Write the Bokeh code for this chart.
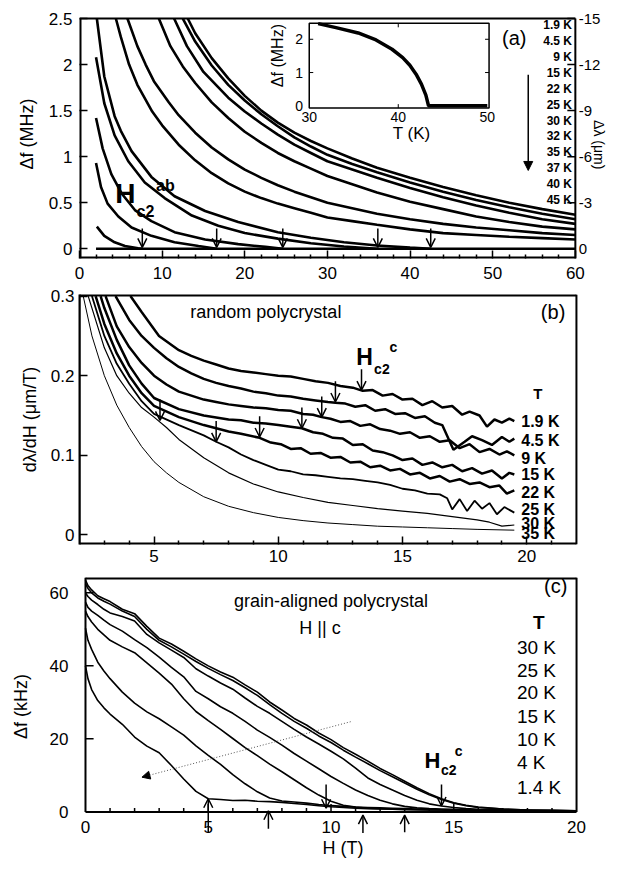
import math
from bokeh.plotting import figure
from bokeh.layouts import column
from bokeh.models import (Range1d, FixedTicker, CustomJSTickFormatter,
                          Label, Arrow, OpenHead, NormalHead, ColumnDataSource)
from bokeh.embed import file_html
from bokeh.resources import INLINE

FONT = "Liberation Sans"

# ---------------- panel (a) data : Delta f (MHz) vs H (T) ----------------
a_temps = ["1.9 K", "4.5 K", "9 K", "15 K", "22 K", "25 K", "30 K", "32 K", "35 K", "37 K", "40 K", "45 K"]
a_H_1p9 = [13.1, 14, 16, 18, 20, 22, 24, 26, 28, 30, 33, 36, 40, 44, 48, 52, 56, 60]
a_f_1p9 = [2.5, 2.34, 2.07, 1.85, 1.66, 1.5, 1.37, 1.26, 1.17, 1.09, 0.98, 0.88, 0.77, 0.67, 0.58, 0.5, 0.43, 0.37]
a_H_4p5 = [12.5, 14, 16, 18, 20, 22, 24, 26, 28, 30, 33, 36, 40, 44, 48, 52, 56, 60]
a_f_4p5 = [2.5, 2.25, 1.99, 1.78, 1.61, 1.46, 1.33, 1.21, 1.11, 1.02, 0.92, 0.83, 0.72, 0.62, 0.53, 0.45, 0.38, 0.32]
a_H_9 = [11.45, 13, 15, 18, 20, 22, 24, 26, 28, 30, 33, 36, 40, 44, 48, 52, 56, 60]
a_f_9 = [2.5, 2.2, 1.92, 1.64, 1.49, 1.36, 1.24, 1.13, 1.04, 0.95, 0.86, 0.77, 0.66, 0.56, 0.47, 0.39, 0.32, 0.27]
a_H_15 = [9.6, 11, 12.5, 14, 16, 18, 20, 22, 24, 26, 28, 30, 33, 36, 40, 44, 48, 52, 56, 60]
a_f_15 = [2.5, 2.2, 1.98, 1.8, 1.59, 1.42, 1.27, 1.15, 1.04, 0.95, 0.87, 0.79, 0.7, 0.61, 0.51, 0.43, 0.35, 0.29, 0.24, 0.21]
a_H_22 = [5.8, 7, 8, 9, 10.8, 12, 14, 16, 18, 20, 22, 24, 26, 28, 30, 33, 36, 40, 44, 48, 52, 56, 60]
a_f_22 = [2.5, 2.2, 2.0, 1.82, 1.59, 1.45, 1.26, 1.1, 0.97, 0.86, 0.77, 0.69, 0.62, 0.56, 0.5, 0.44, 0.38, 0.32, 0.27, 0.23, 0.2, 0.17, 0.15]
a_H_25 = [4.4, 5, 6, 7, 8.8, 10, 12, 14, 16, 18, 20, 22, 24, 26, 28, 30, 33, 36, 40, 44, 48, 52, 56, 60]
a_f_25 = [2.5, 2.3, 2.0, 1.78, 1.49, 1.34, 1.13, 0.96, 0.82, 0.71, 0.62, 0.55, 0.49, 0.44, 0.39, 0.34, 0.3, 0.26, 0.21, 0.17, 0.15, 0.13, 0.115, 0.1]
a_H_30 = [2.1, 3, 4.25, 5, 6.3, 8.7, 11.5, 15.2, 19.2, 24, 28, 32, 36, 40, 42.5]
a_f_30 = [2.5, 1.87, 1.44, 1.28, 1.06, 0.78, 0.57, 0.41, 0.29, 0.18, 0.12, 0.07, 0.035, 0.012, 0.0]
a_H_32 = [2.0, 3, 4.25, 5.9, 7.9, 10.3, 13.6, 16.8, 20, 24, 28, 32, 36]
a_f_32 = [2.08, 1.58, 1.23, 0.95, 0.72, 0.55, 0.36, 0.25, 0.17, 0.11, 0.06, 0.025, 0.0]
a_H_35 = [2.0, 2.8, 3.85, 5.1, 6.7, 8.7, 11.5, 15.2, 19.2, 22.5, 24.6]
a_f_35 = [1.42, 1.09, 0.81, 0.6, 0.42, 0.3, 0.18, 0.1, 0.05, 0.02, 0.0]
a_H_37 = [2.0, 2.6, 3.4, 4.7, 6.3, 8.7, 11.5, 14.4, 16.6]
a_f_37 = [0.93, 0.67, 0.49, 0.35, 0.23, 0.14, 0.07, 0.03, 0.0]
a_H_40 = [2.1, 3, 4.25, 5.5, 7.1, 7.6]
a_f_40 = [0.24, 0.14, 0.07, 0.03, 0.005, 0.0]
a_H_45 = [2.0, 60.0]
a_f_45 = [0.0, 0.0]
a_hc2 = [7.6, 16.6, 24.6, 36.1, 42.5]          # H_c2 arrows (T)
a_yticks = [0, 0.5, 1, 1.5, 2, 2.5]
a_dl_ticks = [0, -3, -6, -9, -12, -15]         # right axis, delta lambda = -6 * delta f

# inset: Delta f (MHz) vs T (K) at zero field
in_T = [31.0, 33.0, 35.5, 37.5, 39.3, 40.5, 41.3, 42.0, 42.6, 43.1, 43.4, 50.0]
in_f = [2.47, 2.35, 2.19, 1.98, 1.70, 1.45, 1.22, 0.95, 0.65, 0.32, 0.0, 0.0]

# ---------------- panel (b) data : d lambda / dH (um/T) ----------------
b_temps = ["1.9 K", "4.5 K", "9 K", "15 K", "22 K", "25 K", "30 K", "35 K"]
b_H_1p9 = [4.05, 4.5, 5.2, 6, 6.5, 7, 7.5, 8, 8.5, 9, 9.5, 10, 10.5, 11, 11.5, 12, 12.5, 13, 13.4, 13.8,
           14.2, 14.6, 15, 15.4, 15.8, 16.2, 16.6, 17, 17.4, 17.7, 18.1, 18.4, 18.7, 19, 19.3, 19.5]
b_v_1p9 = [.300, .280, .250, .232, .225, .219, .214, .209, .206, .204, .202, .200, .199, .196, .193, .191, .187, .185, .181, .182,
           .175, .177, .170, .171, .163, .168, .160, .162, .151, .155, .150, .136, .145, .141, .146, .143]
b_H_4p5 = [3.45, 4, 4.5, 5, 5.5, 6, 6.5, 7, 7.5, 8, 8.5, 9, 9.5, 10, 10.5, 11, 11.5, 12, 12.3, 12.7, 13.1,
           13.5, 13.9, 14.3, 14.7, 15.1, 15.5, 15.9, 16.3, 16.6, 17.05, 17.5, 17.8, 18.2, 18.6, 19, 19.3, 19.5]
b_v_4p5 = [.300, .270, .250, .235, .222, .211, .203, .196, .191, .187, .184, .180, .178, .175, .174, .171, .169, .167, .166, .165, .161,
           .163, .156, .158, .152, .153, .147, .149, .141, .138, .107, .117, .124, .119, .113, .123, .117, .121]
b_H_9 = [3.05, 3.5, 4, 4.5, 5, 5.5, 6, 7, 7.5, 8, 8.5, 9, 9.5, 10, 10.5, 11, 11.4, 11.75, 12.1, 12.5, 12.9,
         13.3, 13.7, 14.1, 14.5, 14.9, 15.3, 15.7, 16.1, 16.5, 16.9, 17.3, 17.7, 18.1, 18.5, 18.9, 19.2, 19.5]
b_v_9 = [.300, .262, .236, .216, .200, .189, .180, .170, .167, .164, .162, .160, .159, .157, .156, .152, .151, .148, .146, .142, .143,
         .137, .139, .133, .131, .127, .129, .122, .124, .117, .119, .109, .114, .104, .108, .101, .105, .100]
b_H_15 = [2.85, 3, 3.5, 4, 4.5, 5, 6, 7, 8, 8.5, 9, 9.5, 10, 10.5, 10.95, 11.4, 11.8, 12.2, 12.6, 13, 13.4,
          13.8, 14.2, 14.6, 15, 15.4, 15.8, 16.2, 16.6, 17, 17.4, 17.8, 18.2, 18.6, 19, 19.3, 19.5]
b_v_15 = [.300, .285, .245, .213, .190, .172, .158, .150, .145, .144, .141, .140, .138, .136, .134, .129, .127, .122, .121, .113, .114,
          .106, .104, .100, .094, .096, .088, .091, .085, .088, .080, .084, .077, .081, .071, .078, .076]
b_H_22 = [2.65, 3, 3.5, 4, 4.5, 5, 6, 7, 8, 8.5, 9.25, 9.7, 10.1, 10.5, 10.9, 11.3, 11.7, 12.1, 12.5, 12.9, 13.3,
          13.7, 14.1, 14.5, 14.9, 15.3, 15.7, 16.1, 16.5, 16.9, 17.3, 17.7, 18.1, 18.5, 18.9, 19.2, 19.5]
b_v_22 = [.300, .265, .228, .200, .178, .162, .148, .138, .130, .127, .122, .116, .114, .108, .109, .102, .103, .097, .098, .091, .092,
          .085, .087, .081, .083, .076, .078, .071, .074, .067, .070, .064, .066, .060, .062, .052, .056]
b_H_25 = [2.5, 3, 3.5, 4, 4.5, 5, 6, 7, 7.5, 8, 8.5, 9, 9.5, 10, 10.5, 11, 11.5, 12, 12.5, 13, 13.5,
          14, 14.5, 15, 15.5, 16, 16.5, 16.8, 17.0, 17.3, 17.6, 17.9, 18.2, 18.5, 18.8, 19.1, 19.5]
b_v_25 = [.300, .250, .215, .190, .168, .152, .138, .125, .117, .110, .101, .094, .088, .082, .080, .076, .075, .073, .071, .070, .068,
          .066, .063, .058, .056, .052, .051, .046, .032, .045, .030, .043, .033, .040, .026, .035, .028]
b_H_30 = [2.35, 3, 3.5, 4, 4.5, 5, 5.5, 6, 7, 8, 9, 10, 11, 12, 13, 14, 15, 16, 17, 18, 18.5, 19, 19.5]
b_v_30 = [.300, .235, .200, .178, .160, .148, .135, .120, .097, .078, .064, .054, .047, .041, .037, .033, .030, .027, .023, .019, .016, .011, .0125]
b_H_35 = [2.15, 2.5, 3, 3.5, 4, 4.5, 5, 5.5, 6, 7, 8, 9, 10, 11, 12, 13, 14, 15, 16, 17, 18, 19.5]
b_v_35 = [.300, .250, .200, .163, .135, .111, .092, .078, .066, .048, .036, .028, .022, .018, .015, .013, .011, .010, .009, .008, .007, .006]
b_hc2_H = [5.24, 7.5, 9.25, 10.95, 11.75, 12.3, 13.35]
b_hc2_v = [0.144, 0.117, 0.123, 0.134, 0.148, 0.167, 0.182]

# ---------------- panel (c) data : Delta f (kHz) vs H (T) ----------------
c_temps = ["30 K", "25 K", "20 K", "15 K", "10 K", "4 K", "1.4 K"]
c_H = [0, 0.1, 0.25, 0.5, 0.75, 1, 1.5, 2, 2.5, 3, 3.5, 4, 4.5, 5, 5.5, 6, 6.5, 7, 7.5, 8,
       8.5, 9, 9.5, 10, 10.5, 11, 11.5, 12, 12.5, 13, 13.5, 14, 14.5, 15, 15.5, 16, 17, 18, 19, 20]
c_1p4 = [63.5, 62.0, 60.8, 59.2, 58.4, 57.6, 55.5, 54.3, 50.8, 47.6, 46.0, 44.0, 41.9, 40.0, 38.3, 36.9, 34.8, 32.8, 30.1, 27.9,
         25.6, 23.8, 21.6, 19.8, 17.6, 15.8, 13.9, 11.9, 10.2, 8.4, 6.6, 5.0, 3.6, 2.5, 1.8, 1.3, 0.8, 0.5, 0.4, 0.3]
c_4 = [62.5, 61.2, 60.0, 58.6, 57.7, 56.9, 55.0, 53.5, 50.0, 47.0, 45.2, 43.2, 41.2, 39.3, 37.6, 36.0, 34.0, 31.9, 29.4, 27.0,
       24.8, 22.9, 20.8, 19.0, 16.9, 15.0, 13.2, 11.3, 9.6, 7.9, 6.2, 4.7, 3.4, 2.4, 1.7, 1.2, 0.8, 0.5, 0.4, 0.3]
c_10 = [60.0, 59.0, 58.0, 56.8, 55.5, 54.5, 53.5, 52.3, 48.6, 46.3, 44.3, 42.3, 39.2, 37.2, 35.3, 33.6, 31.2, 28.9, 27.0, 24.8,
        22.6, 20.5, 18.6, 16.6, 14.5, 12.0, 9.3, 7.5, 6.0, 4.5, 3.2, 2.2, 1.6, 1.2, 0.9, 0.7, 0.5, 0.4, 0.3, 0.3]
c_15 = [57.5, 56.0, 55.0, 53.8, 52.5, 51.3, 49.5, 47.2, 45.0, 42.4, 39.6, 37.0, 33.0, 31.0, 28.8, 27.0, 24.8, 22.4, 20.4, 18.3,
        16.0, 13.9, 11.8, 9.7, 7.8, 6.0, 4.5, 3.2, 2.2, 1.5, 1.1, 0.9, 0.8, 0.7, 0.6, 0.5, 0.4, 0.4, 0.3, 0.3]
c_20 = [55.0, 53.5, 52.0, 50.0, 48.5, 47.0, 45.2, 43.6, 40.8, 38.0, 35.0, 31.0, 27.5, 25.0, 22.6, 20.1, 17.6, 15.4, 13.1, 11.0,
        8.8, 6.6, 4.6, 2.9, 1.8, 1.3, 1.0, 0.9, 0.8, 0.7, 0.6, 0.5, 0.5, 0.4, 0.4, 0.4, 0.3, 0.3, 0.3, 0.3]
c_25 = [50.3, 47.0, 44.5, 41.0, 38.6, 36.5, 32.8, 29.8, 27.4, 25.5, 23.3, 21.0, 18.1, 15.5, 13.0, 10.2, 7.7, 5.5, 3.8, 3.0,
        2.7, 2.4, 2.0, 1.7, 1.5, 1.3, 1.2, 1.1, 1.0, 0.9, 0.8, 0.7, 0.6, 0.5, 0.5, 0.4, 0.4, 0.3, 0.3, 0.3]
c_30 = [40.0, 36.5, 33.5, 30.5, 28.5, 26.8, 24.0, 20.5, 18.0, 16.2, 12.7, 9.0, 5.6, 3.6, 3.4, 3.1, 3.2, 2.9, 2.8, 2.6,
        2.3, 2.0, 1.7, 1.4, 1.2, 1.0, 0.9, 0.8, 0.7, 0.6, 0.6, 0.5, 0.5, 0.4, 0.4, 0.4, 0.3, 0.3, 0.3, 0.3]
c_up_H = [5.0, 7.45, 11.3, 13.0]
c_down_H = [9.8, 14.5]
c_xticks = [0, 5, 10, 15, 20]
c_yticks = [0, 20, 40, 60]


# ---------------- helpers ----------------
def style(p, tick_size="17px"):
    p.xgrid.visible = False
    p.ygrid.visible = False
    p.outline_line_color = None
    p.background_fill_color = "white"
    p.border_fill_color = "white"
    for ax in p.axis:
        ax.axis_line_width = 2
        ax.major_tick_in = 8
        ax.major_tick_out = 0
        ax.minor_tick_in = 4
        ax.minor_tick_out = 0
        ax.major_tick_line_width = 1.5
        ax.minor_tick_line_width = 1.5
        ax.major_label_text_font = FONT
        ax.major_label_text_font_size = tick_size
        ax.major_label_text_color = "black"
        ax.major_label_standoff = 5
        ax.axis_label_text_font = FONT
        ax.axis_label_text_font_size = "18px"
        ax.axis_label_text_font_style = "normal"
        ax.axis_label_text_color = "black"
        ax.axis_label_standoff = 4
        ax.formatter = CustomJSTickFormatter(code="return String(tick);")


def lab(p, x, y, text, size, bold=False, align="center", baseline="middle",
        angle=0.0, xr="default", yr="default"):
    p.add_layout(Label(x=x, y=y, text=text, text_font=FONT,
                       text_font_size=f"{size}px",
                       text_font_style="bold" if bold else "normal",
                       text_align=align, text_baseline=baseline, angle=angle,
                       x_range_name=xr, y_range_name=yr, text_color="black"))


def arrows(p, xs, y0s, y1s, head, lw=1.5, color="black", dash="solid"):
    src = ColumnDataSource(dict(x0=list(xs), y0=list(y0s), x1=list(xs), y1=list(y1s)))
    p.add_layout(Arrow(end=head, source=src, x_start="x0", y_start="y0",
                       x_end="x1", y_end="y1", line_width=lw,
                       line_color=color, line_dash=dash))


def ohead():
    return OpenHead(size=9, line_width=1.5, line_color="black")


def box(p, x0, x1, y0, y1, widths):
    # left, right, bottom, top edges of a panel box
    p.segment(x0=[x0, x1, x0, x0], y0=[y0, y0, y0, y1], x1=[x0, x1, x1, x1], y1=[y1, y1, y0, y1],
              line_color="black", line_width=widths)


W = 606
BL = 79           # common left border (frames are aligned in the column)

# ================= panel (a) =================
a_top = 2.598     # frame top: a little above the box so the right tick labels fit
a_bot = -0.106
a_xend = 63.77    # frame extends right of the box (H = 60) for the right-hand scale
pa = figure(width=W, height=286, x_range=Range1d(0, a_xend), y_range=Range1d(a_bot, a_top),
            output_backend="svg", toolbar_location=None,
            min_border_left=BL, min_border_right=0, min_border_top=9, min_border_bottom=28)
in_box_H = (27.8, 49.56)
in_box_f = (1.527, 2.448)
in_x = (30.0, 50.2)
in_y = (-0.07, 2.48)
sx = (in_x[1] - in_x[0]) / (in_box_H[1] - in_box_H[0])
sy = (in_y[1] - in_y[0]) / (in_box_f[1] - in_box_f[0])
pa.extra_x_ranges = {"ix": Range1d(in_x[0] + (0 - in_box_H[0]) * sx, in_x[0] + (a_xend - in_box_H[0]) * sx)}
pa.extra_y_ranges = {"iy": Range1d(in_y[0] + (a_bot - in_box_f[0]) * sy, in_y[0] + (a_top - in_box_f[0]) * sy)}

pa.xaxis.ticker = FixedTicker(ticks=[0, 10, 20, 30, 40, 50, 60],
                              minor_ticks=[x for x in range(2, 60, 2) if x % 10])
pa.yaxis.ticker = FixedTicker(ticks=a_yticks)
pa.yaxis.axis_label = "\u0394f (MHz)"
style(pa)
pa.xaxis.axis_line_color = None
pa.yaxis.axis_line_color = None
pa.xaxis.major_label_standoff = 8
pa.yaxis.major_label_standoff = 7
pa.yaxis.axis_label_standoff = 9
box(pa, 0, 60, a_bot, 2.5, [4, 2, 4, 2])
# right-hand scale (delta lambda)
pa.segment(x0=[60] * 6, y0=[-t / 6 for t in a_dl_ticks], x1=[59.03] * 6, y1=[-t / 6 for t in a_dl_ticks],
           line_color="black", line_width=1.5)
for t in a_dl_ticks:
    lab(pa, 60.4, -t / 6, str(t), 15, align="left")
lab(pa, 62.9, 1.13, "\u0394\u03bb (\u03bcm)", 14, angle=-math.pi / 2)

a_curves = [(a_H_1p9, a_f_1p9), (a_H_4p5, a_f_4p5), (a_H_9, a_f_9), (a_H_15, a_f_15),
            (a_H_22, a_f_22), (a_H_25, a_f_25), (a_H_30, a_f_30), (a_H_32, a_f_32),
            (a_H_35, a_f_35), (a_H_37, a_f_37), (a_H_40, a_f_40), (a_H_45, a_f_45)]
for hx, fy in a_curves:
    pa.line(hx, fy, line_color="black", line_width=2.6)

arrows(pa, a_hc2, [0.22] * len(a_hc2), [0.015] * len(a_hc2), ohead())

for i, t in enumerate(a_temps):
    lab(pa, 59.6, 2.426 - i * 0.1723, t, 12, bold=True, align="right")
lab(pa, 52.6, 2.286, "(a)", 20)
arrows(pa, [54.3], [1.89], [0.85],
       NormalHead(size=9, fill_color="black", line_color="black", line_width=1))
lab(pa, 5.56, 0.596, "H", 28, bold=True)
lab(pa, 7.98, 0.405, "c2", 16, bold=True)
lab(pa, 10.4, 0.69, "ab", 16, bold=True)

# inset
pa.quad(left=in_x[0], right=in_x[1], bottom=in_y[0], top=in_y[1], fill_color="white",
        line_color="black", line_width=1.5, x_range_name="ix", y_range_name="iy")
pa.line(in_T, in_f, line_color="black", line_width=3.5, x_range_name="ix", y_range_name="iy")
dT, dF = 0.45, 0.12
pa.segment(x0=[40, 40, in_x[0], in_x[0], in_x[1], in_x[1]],
           y0=[in_y[0], in_y[1], 1, 2, 1, 2],
           x1=[40, 40, in_x[0] + dT, in_x[0] + dT, in_x[1] - dT, in_x[1] - dT],
           y1=[in_y[0] + dF, in_y[1] - dF, 1, 2, 1, 2],
           line_color="black", line_width=1, x_range_name="ix", y_range_name="iy")
for t in [30, 40, 50]:
    lab(pa, t, -0.334, str(t), 14, xr="ix", yr="iy")
for v in [0, 1, 2]:
    lab(pa, 29.3, v, str(v), 14, align="right", xr="ix", yr="iy")
lab(pa, 41.5, -0.83, "T (K)", 17, xr="ix", yr="iy")
lab(pa, 26.4, 1.51, "\u0394f (MHz)", 16, angle=math.pi / 2, xr="ix", yr="iy")

# ================= panel (b) =================
b_bot, b_top = -0.012, 0.302
pb = figure(width=W, height=283, x_range=Range1d(2, 23.21), y_range=Range1d(b_bot, b_top),
            output_backend="svg", toolbar_location=None,
            min_border_left=BL, min_border_right=0, min_border_top=8, min_border_bottom=25)
pb.xaxis.ticker = FixedTicker(ticks=[5, 10, 15, 20],
                              minor_ticks=[x for x in range(3, 22) if x % 5])
pb.yaxis.ticker = FixedTicker(ticks=[0, 0.1, 0.2, 0.3])
pb.yaxis.axis_label = "d\u03bb/dH (\u03bcm/T)"
style(pb)
pb.xaxis.axis_line_color = None
pb.yaxis.axis_label_standoff = 8
box(pb, 2, 22, b_bot, b_top, [2, 2, 4, 4])

b_curves = [(b_H_1p9, b_v_1p9, 2.5), (b_H_4p5, b_v_4p5, 2.5), (b_H_9, b_v_9, 2.5),
            (b_H_15, b_v_15, 2.5), (b_H_22, b_v_22, 2.5), (b_H_25, b_v_25, 1.8),
            (b_H_30, b_v_30, 1.2), (b_H_35, b_v_35, 1.0)]
for hx, vy, lw in b_curves:
    pb.line(hx, vy, line_color="black", line_width=lw)
arrows(pb, b_hc2_H, [v + 0.026 for v in b_hc2_v], b_hc2_v, ohead())

lab(pb, 9.5, 0.2796, "random polycrystal", 18)
lab(pb, 21.06, 0.2796, "(b)", 20)
lab(pb, 13.47, 0.2233, "H", 23, bold=True)
lab(pb, 14.17, 0.2086, "c2", 14, bold=True)
lab(pb, 14.63, 0.2356, "c", 14, bold=True)
lab(pb, 20.45, 0.178, "T", 15, bold=True)
b_lab_y = [0.1428, 0.1183, 0.0959, 0.0754, 0.053, 0.0314, 0.0142, 0.002]
for t, yy in zip(b_temps, b_lab_y):
    lab(pb, 19.78, yy, t, 16, bold=True, align="left")

# ================= panel (c) =================
c_top = 64.2
pc = figure(width=W, height=291, x_range=Range1d(-0.244, 21.22), y_range=Range1d(-6.47, c_top),
            output_backend="svg", toolbar_location=None,
            min_border_left=BL, min_border_right=0, min_border_top=8, min_border_bottom=22)
pc.xaxis.ticker = FixedTicker(ticks=[])
pc.yaxis.ticker = FixedTicker(ticks=c_yticks)
pc.yaxis.axis_label = "\u0394f (kHz)"
pc.xaxis.axis_label = "H (T)"
style(pc)
pc.xaxis.axis_line_color = None
pc.yaxis.axis_line_color = None
pc.yaxis.major_tick_line_color = None
pc.xaxis.axis_label_standoff = 2
pc.yaxis.major_label_standoff = 11
pc.yaxis.axis_label_standoff = 16
box(pc, 0, 20, 0, c_top, [2, 2, 2, 4])
c_minor = [x for x in range(1, 20) if x % 5]
pc.segment(x0=c_xticks[1:-1], y0=[0] * 3, x1=c_xticks[1:-1], y1=[2.16] * 3,
           line_color="black", line_width=1.5)
pc.segment(x0=c_minor, y0=[0] * len(c_minor), x1=c_minor, y1=[1.08] * len(c_minor),
           line_color="black", line_width=1.5)
pc.segment(x0=[0] * 3, y0=c_yticks[1:], x1=[0.33] * 3, y1=c_yticks[1:],
           line_color="black", line_width=1.5)
for t in c_xticks:
    lab(pc, t, -4.05, str(t), 17)

for vals in [c_1p4, c_4, c_10, c_15, c_20, c_25, c_30]:
    pc.line(c_H, vals, line_color="black", line_width=1.6)

arrows(pc, c_up_H, [-5.5, -4.6, -5.8, -5.6], [3.6, 0.3, -0.9, -0.9], ohead())
arrows(pc, c_down_H, [7.5, 7.5], [1.0, 1.6], ohead())
pc.add_layout(Arrow(end=NormalHead(size=8, fill_color="black", line_color="black", line_width=1),
                    x_start=10.8, y_start=24.7, x_end=2.3, y_end=9.5,
                    line_width=1, line_color="#555555", line_dash="1 2"))

lab(pc, 10.0, 57.8, "grain-aligned polycrystal", 18)
lab(pc, 9.55, 50.4, "H || c", 18)
lab(pc, 19.15, 61.8, "(c)", 20)
lab(pc, 18.46, 52.0, "T", 19, bold=True)
c_lab_y = [45.1, 38.7, 32.6, 26.0, 19.9, 13.5, 6.6]
for t, yy in zip(c_temps, c_lab_y):
    lab(pc, 17.57, yy, t, 19, align="left")
lab(pc, 14.13, 14.05, "H", 22, bold=True)
lab(pc, 14.8, 11.4, "c2", 14, bold=True)
lab(pc, 15.2, 16.7, "c", 14, bold=True)

layout = column(pa, pb, pc, spacing=0)
open("out.html", "w").write(file_html(layout, INLINE))
